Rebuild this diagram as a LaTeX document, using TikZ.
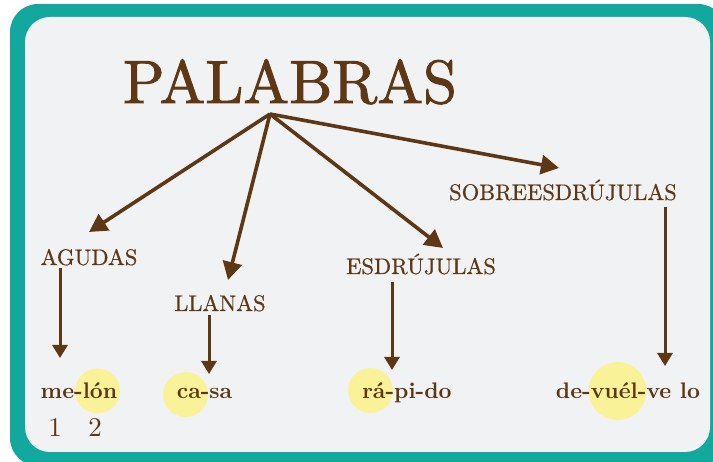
\documentclass[tikz,border=0pt]{standalone}
\usepackage{fontspec}
\newfontfamily\lmten{lmroman10-regular.otf}
\newfontfamily\lmtitle{lmroman10-regular.otf}[FakeBold=1.6]
\newfontfamily\lmlab{lmroman10-regular.otf}[FakeBold=0.6]
\newfontfamily\lmtenbf{lmroman10-bold.otf}
\usetikzlibrary{arrows.meta}
\definecolor{tealc}{RGB}{18,168,157}
\definecolor{grayc}{RGB}{241,242,244}
\definecolor{brownc}{RGB}{94,55,20}
\definecolor{yelc}{RGB}{249,242,152}
\begin{document}
\begin{tikzpicture}[x=1pt,y=-1pt,
  title/.style={text=brownc, inner sep=0pt, anchor=base, font=\lmtitle\fontsize{61}{61}\selectfont},
  lab/.style={text=brownc, inner sep=0pt, anchor=base, font=\lmlab\fontsize{22.5}{22.5}\selectfont},
  word/.style={text=brownc, inner sep=0pt, anchor=base, font=\lmtenbf\fontsize{22.5}{22.5}\selectfont},
  num/.style={text=brownc, inner sep=0pt, anchor=base, font=\lmten\fontsize{27}{27}\selectfont},
  bigarrow/.style={draw=brownc, line width=3.6pt, -{Triangle[length=18pt,width=19pt]}},
  smallarrow/.style={draw=brownc, line width=3pt, -{Triangle[length=13pt,width=15pt]}},
  hl/.style={fill=yelc}]
\useasboundingbox (0,0) rectangle (713,462);
\clip (0,0) rectangle (713,462);
\fill[white] (0,0) rectangle (713,462);
\fill[tealc, rounded corners=28pt] (10,4) rectangle (726,466);
\fill[grayc, rounded corners=25pt] (25,17) rectangle (710,452);

% highlights
\fill[hl] (97.5,391) circle[radius=22.5pt];
\fill[hl] (185.5,394.5) circle[radius=22.5pt];
\fill[hl] (370.5,390.5) circle[radius=22.5pt];
\fill[hl] (617.5,391) circle[radius=29pt];

% title and labels
\node[title] (palabras) at (290,103) {PALABRAS};
\node[lab] (agudas) at (89,265) {AGUDAS};
\node[lab] (llanas) at (220,311) {LLANAS};
\node[lab] (esdr) at (421,274) {ESDRÚJULAS};
\node[lab] (sobre) at (563,200) {SOBREESDRÚJULAS};

% examples
\node[word] (melon) at (79,399) {me-lón};
\node[word] (casa) at (204.5,399) {ca-sa};
\node[word] (rapido) at (407,399) {rá-pi-do};
\node[word] (devuelve) at (628,399) {de-vuél-ve lo};
\node[num] (n1) at (55,437) {1};
\node[num] (n2) at (95,437) {2};

% connector points
\coordinate (apex) at (270,114);
\coordinate (tA) at (89,232);
\coordinate (tL) at (228,280);
\coordinate (tE) at (443,248);
\coordinate (tS) at (559,168);
\coordinate (sA) at (60,268);
\coordinate (eA) at (60,358);
\coordinate (sL) at (209,315);
\coordinate (eL) at (209,374);
\coordinate (sE) at (392,282);
\coordinate (eE) at (392,370);
\coordinate (sS) at (665,207);
\coordinate (eS) at (665,366);

\draw[bigarrow] (apex) -- (tA);
\draw[bigarrow] (apex) -- (tL);
\draw[bigarrow] (apex) -- (tE);
\draw[bigarrow] (apex) -- (tS);
\draw[smallarrow] (sA) -- (eA);
\draw[smallarrow] (sL) -- (eL);
\draw[smallarrow] (sE) -- (eE);
\draw[smallarrow] (sS) -- (eS);
\end{tikzpicture}
\end{document}
